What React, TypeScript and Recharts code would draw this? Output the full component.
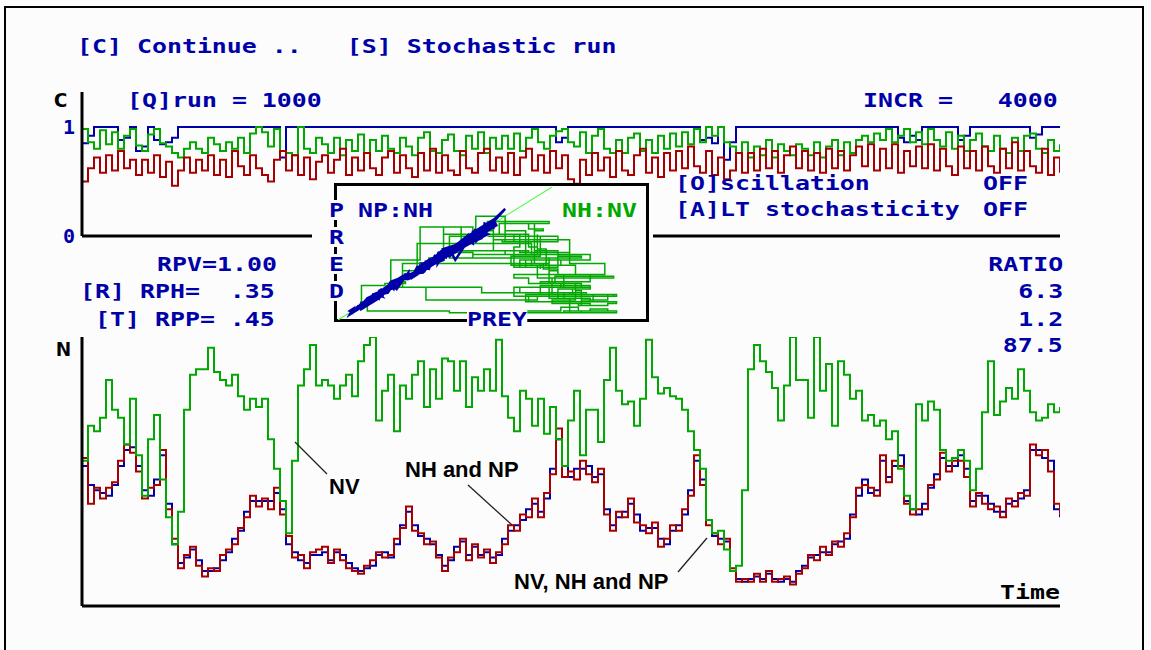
import React from 'react';
import { LineChart, Line, XAxis, YAxis, ReferenceLine } from 'recharts';

const BLUE = '#0000a8';
const GREEN = '#00a800';
const RED = '#a80000';
const LIGHT_GREEN = '#54fc54';
const BG = '#fcfcfc';

// upper panel: C values, one reading every time step
const topBlue = [
  0.85, 0.92, 1, 1, 1, 1, 0.88, 0.9, 1, 0.78,
  0.82, 1, 0.88, 0.84, 0.86, 0.9, 1, 1, 1, 1,
  1, 1, 1, 1, 1, 1, 1, 1, 1, 1,
  1, 1, 1, 0.72, 1, 1, 1, 1, 1, 1,
  1, 1, 1, 1, 1, 1, 1, 1, 1, 1,
  1, 1, 1, 1, 1, 1, 1, 1, 1, 1,
  1, 1, 1, 1, 1, 1, 1, 1, 1, 1,
  1, 1, 1, 1, 1, 1, 1, 1, 1, 0.86,
  0.9, 1, 1, 1, 1, 1, 1, 1, 1, 1,
  1, 1, 1, 1, 1, 1, 1, 1, 1, 1,
  1, 1, 1, 0.88, 0.9, 0.85, 1, 0.7, 0.86, 1,
  1, 1, 1, 1, 1, 1, 1, 1, 1, 1,
  1, 1, 1, 1, 1, 1, 1, 1, 1, 1,
  1, 1, 1, 1, 1, 1, 0.9, 0.86, 0.92, 0.88,
  1, 1, 1, 1, 1, 1, 0.88, 0.92, 1, 1,
  1, 1, 1, 1, 1, 1, 1, 1, 0.9, 0.93,
  1, 1, 1, 1,
];
const topGreen = [
  0.98, 0.86, 0.8, 0.97, 0.84, 0.95, 0.8, 0.92, 0.98, 0.83,
  0.78, 0.93, 0.98, 0.85, 0.82, 0.76, 0.72, 0.8, 0.86, 0.8,
  0.76, 0.9, 0.84, 0.78, 0.86, 0.8, 0.9, 0.76, 0.94, 1.0,
  0.95, 0.82, 0.98, 0.78, 0.76, 0.74, 1.0, 0.8, 0.76, 0.9,
  0.84, 0.76, 0.9, 0.74, 0.88, 0.78, 0.93, 0.76, 0.88, 0.78,
  0.92, 0.8, 0.76, 0.9, 0.82, 0.74, 0.9, 0.95, 0.78, 0.76,
  0.88, 0.93, 0.78, 0.74, 0.92, 0.8, 0.95, 0.76, 0.9, 0.8,
  0.92, 0.8, 0.94, 0.78, 0.9, 0.98, 0.86, 0.8, 0.92, 0.96,
  0.98, 0.86, 0.82, 0.95, 0.76, 0.92, 0.98, 0.8, 0.76, 0.88,
  0.76, 0.9, 0.94, 0.78, 0.88, 0.76, 0.92, 0.8, 0.94, 0.82,
  0.95, 0.84, 0.98, 0.86, 1.0, 0.92, 1.0, 0.86, 0.82, 0.76,
  0.86, 0.72, 0.82, 0.74, 0.88, 0.72, 0.84, 0.78, 0.74, 0.84,
  0.8, 0.74, 0.86, 0.72, 0.82, 0.88, 0.74, 0.86, 0.76, 0.88,
  0.92, 0.86, 0.94, 0.88, 0.98, 0.86, 0.92, 0.98, 0.86, 0.95,
  0.84, 0.98, 0.88, 0.82, 0.95, 0.8, 0.92, 0.78, 0.88, 0.94,
  0.82, 0.78, 0.92, 0.8, 0.76, 0.9, 0.78, 0.92, 0.94, 0.8,
  0.76, 0.88, 0.78, 0.84,
];
const topRed = [
  0.5, 0.62, 0.72, 0.58, 0.74, 0.6, 0.78, 0.62, 0.7, 0.56,
  0.7, 0.58, 0.74, 0.54, 0.68, 0.46, 0.6, 0.72, 0.58, 0.7,
  0.6, 0.74, 0.56, 0.7, 0.54, 0.78, 0.64, 0.56, 0.74, 0.62,
  0.56, 0.5, 0.7, 0.78, 0.6, 0.74, 0.56, 0.72, 0.52, 0.68,
  0.74, 0.58, 0.7, 0.8, 0.56, 0.72, 0.6, 0.76, 0.62, 0.56,
  0.72, 0.78, 0.58, 0.74, 0.62, 0.54, 0.76, 0.6, 0.8, 0.58,
  0.74, 0.6, 0.56, 0.78, 0.62, 0.58, 0.76, 0.8, 0.6, 0.72,
  0.58, 0.76, 0.56, 0.72, 0.8, 0.6, 0.74, 0.58, 0.78, 0.62,
  0.74, 0.52, 0.48, 0.7, 0.56, 0.76, 0.6, 0.72, 0.54, 0.78,
  0.6, 0.56, 0.74, 0.8, 0.58, 0.72, 0.54, 0.76, 0.6, 0.78,
  0.62, 0.82, 0.64, 0.58, 0.78, 0.56, 0.72, 0.52, 0.6, 0.76,
  0.58, 0.76, 0.6, 0.8, 0.62, 0.78, 0.58, 0.74, 0.82, 0.62,
  0.78, 0.6, 0.76, 0.58, 0.8, 0.62, 0.78, 0.6, 0.74, 0.82,
  0.64, 0.84, 0.6, 0.8, 0.62, 0.84, 0.58, 0.78, 0.64, 0.82,
  0.62, 0.84, 0.6, 0.8, 0.64, 0.56, 0.82, 0.62, 0.78, 0.6,
  0.82, 0.64, 0.58, 0.8, 0.62, 0.86, 0.6, 0.78, 0.64, 0.58,
  0.8, 0.56, 0.72, 0.58,
];

// lower panel: population sizes N
const nv = [
  54, 67, 65, 70, 84, 73, 70, 60, 77, 56, 41, 62, 71, 47, 33, 23, 35, 73, 86, 88,
  88, 96, 87, 84, 82, 86, 78, 73, 77, 74, 77, 62, 51, 39, 27, 54, 82, 88, 97, 82,
  84, 82, 77, 82, 86, 78, 91, 97, 100, 69, 80, 86, 65, 82, 77, 86, 91, 74, 88, 77,
  92, 91, 80, 91, 74, 85, 80, 88, 80, 99, 78, 70, 65, 80, 77, 67, 77, 64, 74, 62,
  52, 69, 80, 56, 73, 73, 61, 84, 96, 80, 75, 76, 67, 77, 99, 85, 79, 81, 78, 77,
  73, 65, 58, 51, 32, 27, 28, 21, 13, 15, 43, 88, 97, 91, 87, 81, 69, 82, 100, 84,
  84, 70, 100, 80, 90, 67, 91, 86, 77, 80, 69, 71, 67, 69, 62, 65, 51, 41, 36, 75,
  69, 76, 73, 58, 54, 55, 58, 54, 43, 51, 72, 91, 71, 76, 81, 77, 88, 80, 72, 69,
  70, 75, 72, 74,
];
const nh = [
  52, 45, 43, 42, 41, 45, 52, 58, 59, 52, 43, 41, 47, 56, 38, 23, 16, 18, 21, 17,
  13, 13, 14, 17, 20, 25, 28, 35, 39, 39, 39, 39, 42, 36, 23, 20, 17, 16, 19, 19,
  20, 17, 20, 19, 16, 14, 13, 14, 15, 19, 20, 18, 23, 30, 35, 30, 26, 25, 23, 19,
  15, 17, 22, 24, 19, 22, 19, 20, 18, 19, 25, 28, 30, 32, 36, 38, 35, 40, 51, 62,
  52, 48, 51, 51, 52, 48, 49, 36, 30, 33, 35, 38, 34, 28, 29, 29, 25, 23, 28, 30,
  34, 43, 54, 47, 32, 26, 25, 24, 13, 10, 9, 10, 11, 10, 12, 10, 9, 10, 9, 13,
  15, 18, 19, 20, 20, 23, 24, 25, 34, 41, 47, 42, 43, 54, 48, 52, 56, 39, 36, 34,
  38, 44, 49, 55, 52, 52, 56, 51, 39, 41, 41, 38, 35, 35, 38, 39, 40, 43, 58, 58,
  55, 54, 36, 33,
];
const np = [
  55, 38, 44, 40, 44, 46, 54, 60, 57, 50, 40, 44, 45, 58, 36, 25, 14, 19, 22, 15,
  11, 14, 13, 19, 21, 23, 29, 33, 41, 37, 40, 36, 44, 34, 26, 18, 19, 14, 20, 21,
  22, 16, 21, 17, 14, 13, 12, 15, 17, 20, 18, 19, 25, 29, 37, 28, 27, 23, 24, 18,
  13, 18, 20, 25, 17, 23, 18, 21, 16, 20, 23, 30, 28, 34, 33, 40, 33, 42, 49, 66,
  48, 50, 47, 54, 49, 46, 51, 34, 28, 35, 33, 40, 31, 30, 27, 31, 22, 25, 30, 28,
  36, 41, 56, 45, 30, 27, 23, 25, 14, 9, 10, 9, 12, 9, 13, 9, 10, 11, 8, 12,
  14, 19, 17, 22, 19, 24, 22, 27, 33, 44, 45, 44, 41, 56, 46, 54, 52, 38, 34, 36,
  36, 45, 47, 57, 50, 54, 54, 48, 37, 42, 38, 36, 37, 33, 40, 37, 42, 41, 60, 56,
  58, 50, 38, 34,
];

const cTicks = [0, 1];
const diagonal = [5, 78];

const topData = topBlue.map((b, t) => ({ t, blue: b, green: topGreen[t], red: topRed[t] }));
const popData = nv.map((v, t) => ({ t, nv: v, nh: nh[t], np: np[t] }));
const predPrey = nh.map((h, t) => ({ x: h, y: np[t] }));
const preyVeg = nv.map((v, t) => ({ x: v, y: nh[t] }));

const dosFont = '"DejaVu Sans Mono", monospace';
const axisStyle = { stroke: '#000', strokeWidth: 3 };

function Dos({ x, y, text, color = BLUE, align = 'left', bg }: { x: number; y: number; text: string; color?: string; align?: 'left' | 'right'; bg?: string }) {
  const style: React.CSSProperties = {
    position: 'absolute',
    top: y - 10,
    whiteSpace: 'pre',
    fontFamily: dosFont,
    fontWeight: 700,
    fontSize: 19,
    lineHeight: '20px',
    color,
    background: bg,
    transform: 'scaleX(1.31)',
    transformOrigin: align === 'left' ? 'left center' : 'right center',
  };
  if (align === 'left') style.left = x;
  else style.right = 1151 - x;
  return <div style={style}>{text}</div>;
}

function Note({ x, y, text }: { x: number; y: number; text: string }) {
  return (
    <div style={{ position: 'absolute', left: x, top: y - 11, whiteSpace: 'pre', fontFamily: '"Liberation Sans", Arial, sans-serif', fontWeight: 700, fontSize: 22, lineHeight: '22px', color: '#000' }}>
      {text}
    </div>
  );
}

export default function App() {
  return (
    <div style={{ position: 'absolute', left: 0, top: 0, width: 1151, height: 650, overflow: 'hidden', background: BG }}>
      <div style={{ position: 'absolute', left: 4, top: 6, width: 1140, height: 720, border: '2px solid #000', boxSizing: 'border-box' }} />

      {/* C panel: plot spans x 82..1060, y 92..236 */}
      <div style={{ position: 'absolute', left: 40, top: 92 }}>
        <LineChart width={1020} height={156} data={topData} margin={{ top: 0, right: 0, bottom: 10, left: 0 }}>
          <XAxis type="number" dataKey="t" domain={[0, 163]} height={2} tick={false} tickLine={false} axisLine={axisStyle} />
          <YAxis type="number" domain={[0, 1.32]} ticks={cTicks} width={42} tickSize={0} tickMargin={7} tickLine={false} axisLine={axisStyle}
            tick={{ fill: BLUE, fontSize: 20, fontWeight: 700, fontFamily: dosFont }} />
          <Line type="stepAfter" dataKey="blue" stroke={BLUE} strokeWidth={2} dot={false} isAnimationActive={false} />
          <Line type="stepAfter" dataKey="green" stroke={GREEN} strokeWidth={2} dot={false} isAnimationActive={false} />
          <Line type="stepAfter" dataKey="red" stroke={RED} strokeWidth={2} dot={false} isAnimationActive={false} />
        </LineChart>
      </div>

      {/* N panel: plot spans x 82..1060, y 337..606 */}
      <div style={{ position: 'absolute', left: 40, top: 337 }}>
        <LineChart width={1020} height={277} data={popData} margin={{ top: 0, right: 0, bottom: 6, left: 0 }}>
          <XAxis type="number" dataKey="t" domain={[0, 163]} height={2} tick={false} tickLine={false} axisLine={axisStyle} />
          <YAxis type="number" domain={[0, 100]} width={42} tick={false} tickLine={false} axisLine={axisStyle} />
          <Line type="stepAfter" dataKey="nh" stroke={BLUE} strokeWidth={2} dot={false} isAnimationActive={false} />
          <Line type="stepAfter" dataKey="np" stroke={RED} strokeWidth={2} dot={false} isAnimationActive={false} />
          <Line type="stepAfter" dataKey="nv" stroke={GREEN} strokeWidth={2} dot={false} isAnimationActive={false} />
        </LineChart>
      </div>

      {/* phase plot inset */}
      <div style={{ position: 'absolute', left: 312, top: 184, width: 341, height: 142, background: BG }} />
      <div style={{ position: 'absolute', left: 334, top: 183, width: 315, height: 139, border: '3.5px solid #000', boxSizing: 'border-box', background: BG }} />
      <div style={{ position: 'absolute', left: 338, top: 187 }}>
        <LineChart width={302} height={133} margin={{ top: 0, right: 0, bottom: 0, left: 0 }}>
          <XAxis type="number" dataKey="x" domain={[5, 108]} hide />
          <YAxis type="number" dataKey="y" domain={[5, 78]} hide />
          <ReferenceLine segment={[{ x: diagonal[0], y: diagonal[0] }, { x: diagonal[1], y: diagonal[1] }]} stroke={LIGHT_GREEN} strokeWidth={1.2} />
          <Line data={preyVeg} type="stepAfter" dataKey="y" stroke={GREEN} strokeWidth={1.5} dot={false} isAnimationActive={false} />
          <Line data={predPrey} type="linear" dataKey="y" stroke={BLUE} strokeWidth={2.5} dot={false} isAnimationActive={false} />
        </LineChart>
      </div>
      <Dos x={329} y={210} text="P" bg={BG} />
      <Dos x={329} y={237} text="R" bg={BG} />
      <Dos x={329} y={264} text="E" bg={BG} />
      <Dos x={329} y={291} text="D" bg={BG} />
      <Dos x={358} y={210} text="NP:NH" />
      <Dos x={562} y={210} text="NH:NV" color={GREEN} />
      <Dos x={467} y={319} text="PREY" bg={BG} />

      {/* screen texts */}
      <Dos x={77} y={46} text="[C] Continue ..   [S] Stochastic run" />
      <Dos x={53} y={100} text="C" color="#000" />
      <Dos x={127} y={100} text="[Q]run = 1000" />
      <Dos x={863} y={100} text="INCR =   4000" />
      <Dos x={675} y={183} text="[O]scillation" />
      <Dos x={983} y={183} text="OFF" />
      <Dos x={675} y={209} text="[A]LT stochasticity" />
      <Dos x={983} y={209} text="OFF" />
      <Dos x={157} y={264} text="RPV=1.00" />
      <Dos x={80} y={291} text="[R] RPH=  .35" />
      <Dos x={95} y={319} text="[T] RPP= .45" />
      <Dos x={1063} y={264} text="RATIO" align="right" />
      <Dos x={1063} y={291} text="6.3" align="right" />
      <Dos x={1063} y={319} text="1.2" align="right" />
      <Dos x={1063} y={345} text="87.5" align="right" />
      <Dos x={56} y={349} text="N" color="#000" />
      <Dos x={1000} y={592} text="Time" color="#000" />

      {/* annotations */}
      <svg width={1151} height={650} style={{ position: 'absolute', left: 0, top: 0, pointerEvents: 'none' }}>
        <line x1={295} y1={442} x2={327} y2={474} stroke="#222" strokeWidth={1.3} />
        <line x1={468} y1={485} x2={512} y2={525} stroke="#222" strokeWidth={1.3} />
        <line x1={678} y1={572} x2={707} y2={538} stroke="#222" strokeWidth={1.3} />
      </svg>
      <Note x={329} y={487} text="NV" />
      <Note x={405} y={470} text="NH and NP" />
      <Note x={514} y={582} text="NV, NH and NP" />
    </div>
  );
}
